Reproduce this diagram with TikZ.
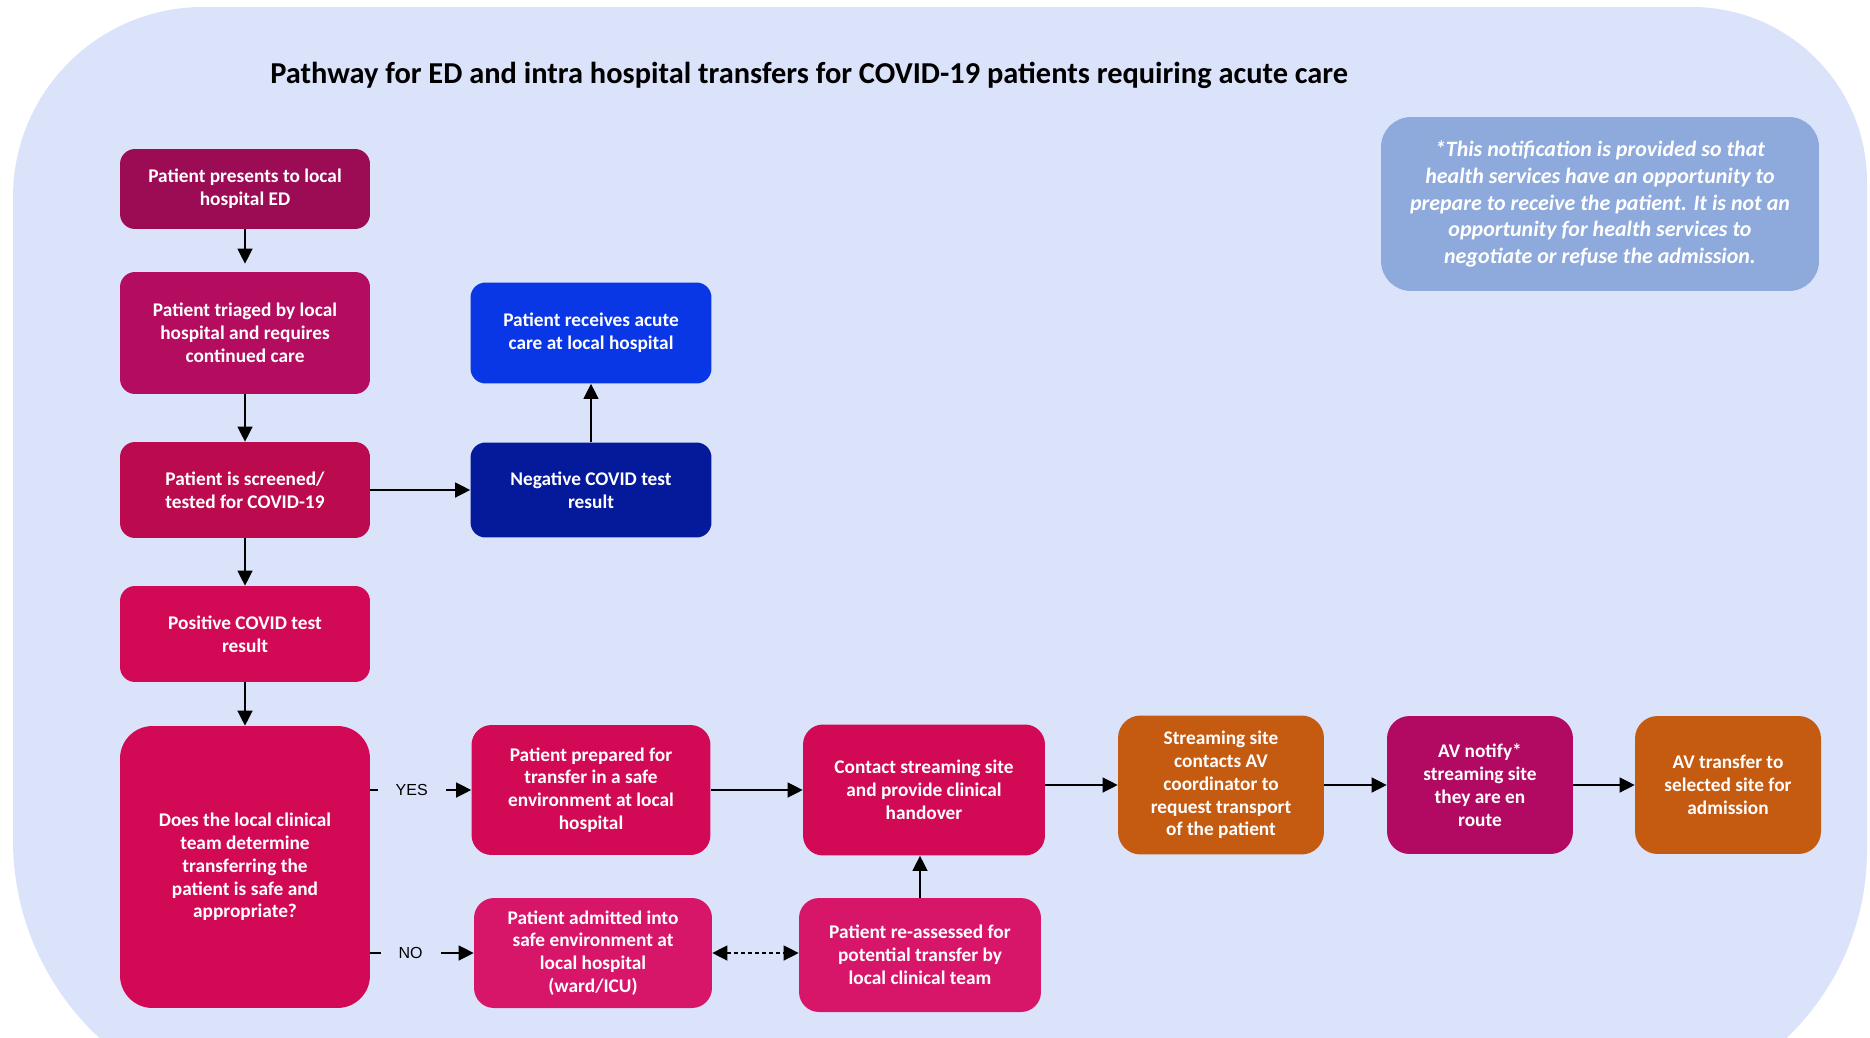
\documentclass[tikz,border=0pt]{standalone}
\usepackage{fontspec}
\setmainfont{Carlito}
\newfontfamily\arialfont{Liberation Sans}
\usetikzlibrary{arrows.meta,calc}

\definecolor{bgblue}{HTML}{DBE3FB}
\definecolor{rasp}{HTML}{9B0C55}
\definecolor{berry}{HTML}{B40C5F}
\definecolor{crimson}{HTML}{BB0A4E}
\definecolor{rose}{HTML}{D20A55}
\definecolor{pinkish}{HTML}{D7166A}
\definecolor{plum}{HTML}{B20A62}
\definecolor{brightblue}{HTML}{0A37E6}
\definecolor{navyblue}{HTML}{05199B}
\definecolor{amber}{HTML}{C55A11}
\definecolor{steel}{HTML}{8EA9DB}

\begin{document}
\begin{tikzpicture}[x=0.02cm, y=-0.02cm, line join=round,
    box/.style={rounded corners=0.3cm, text=white, align=center, inner sep=0pt,
      font=\bfseries\fontsize{11}{13}\selectfont},
    arr/.style={-{Triangle[length=0.3cm,width=0.3cm]}, line width=0.75pt},
    lbl/.style={fill=bgblue, inner xsep=0.36cm, inner ysep=2pt,
      font=\arialfont\fontsize{9.1}{11}\selectfont}]
\useasboundingbox (0,0) rectangle (1870,1038);
\clip (0,0) rectangle (1870,1038);
% rounded panel behind everything
\fill[bgblue] (13,197) arc[start angle=180,end angle=270,radius=190] -- (1692,7)
  arc[start angle=270,end angle=360,radius=175] -- (1867,850)
  arc[start angle=0,end angle=90,radius=260] -- (283,1110)
  arc[start angle=90,end angle=180,radius=270] -- cycle;

\node[anchor=base west, inner sep=0pt, font=\bfseries\fontsize{17.3}{20}\selectfont] (title) at (270,83)
  {Pathway for ED and intra hospital transfers for COVID-19 patients requiring acute care};

% left column
\node[box, fill=rasp, minimum width=5cm, minimum height=1.6cm] (pres) at (245,189)
  {Patient presents to local\\hospital ED};
\node[box, fill=berry, minimum width=5cm, minimum height=2.44cm] (triage) at (245,333)
  {Patient triaged by local\\hospital and requires\\continued care};
\node[box, fill=crimson, minimum width=5cm, minimum height=1.92cm] (screen) at (245,490)
  {Patient is screened/\\tested for COVID-19};
\node[box, fill=rose, minimum width=5cm, minimum height=1.92cm] (pos) at (245,634)
  {Positive COVID test\\result};
\node[box, fill=rose, rounded corners=0.65cm, minimum width=5cm, minimum height=5.64cm] (decide) at (245,867)
  {Does the local clinical\\team determine\\transferring the\\patient is safe and\\appropriate?};

% negative result
\node[box, fill=brightblue, minimum width=4.82cm, minimum height=2.02cm] (acute) at (591,333)
  {Patient receives acute\\care at local hospital};
\node[box, fill=navyblue, minimum width=4.82cm, minimum height=1.9cm] (neg) at (591,490)
  {Negative COVID test\\result};

% transfer row
\node[box, fill=rose, rounded corners=0.4cm, minimum width=4.78cm, minimum height=2.6cm] (prep) at (591,790)
  {Patient prepared for\\transfer in a safe\\environment at local\\hospital};
\node[box, fill=pinkish, rounded corners=0.4cm, minimum width=4.76cm, minimum height=2.2cm] (admit) at (593,953)
  {Patient admitted into\\safe environment at\\local hospital\\(ward/ICU)};
\node[box, fill=rose, rounded corners=0.4cm, minimum width=4.84cm, minimum height=2.62cm] (contact) at (924,790)
  {Contact streaming site\\and provide clinical\\handover};
\node[box, fill=pinkish, rounded corners=0.4cm, minimum width=4.84cm, minimum height=2.28cm] (reassess) at (920,955)
  {Patient re-assessed for\\potential transfer by\\local clinical team};
\node[box, fill=amber, rounded corners=0.45cm, minimum width=4.12cm, minimum height=2.78cm] (stream) at (1221,785)
  {Streaming site\\contacts AV\\coordinator to\\request transport\\of the patient};
\node[box, fill=plum, rounded corners=0.45cm, minimum width=3.72cm, minimum height=2.76cm] (notify) at (1480,785)
  {AV notify*\\streaming site\\they are en\\route};
\node[box, fill=amber, rounded corners=0.45cm, minimum width=3.72cm, minimum height=2.76cm] (avtrans) at (1728,785)
  {AV transfer to\\selected site for\\admission};

% footnote
\node[box, fill=steel, rounded corners=0.6cm, minimum width=8.76cm, minimum height=3.48cm,
  font=\bfseries\itshape\fontsize{12.5}{15.1}\selectfont] (note) at (1600,204)
  {*This notification is provided so that\\health services have an opportunity to\\prepare to receive the patient. It is not an\\opportunity for health services to\\negotiate or refuse the admission.};

% connectors
\draw[arr, shorten >=0.16cm] (pres) -- (triage);
\foreach \a/\b in {triage/screen, screen/pos, pos/decide, screen/neg, neg/acute,
  prep/contact, stream/notify, notify/avtrans}
  \draw[arr] (\a) -- (\b);
\draw[arr] (stream.west -| contact.east) -- (stream.west);
\draw[arr] (reassess.north) -- (reassess.north |- contact.south);
\draw[arr] (decide.east |- prep.west) -- node[lbl, pos=0.41] {YES} (prep.west);
\draw[arr] (decide.east |- admit.west) -- node[lbl, pos=0.39] {NO} (admit.west);
\draw[arr, {Triangle[length=0.3cm,width=0.3cm]}-{Triangle[length=0.3cm,width=0.3cm]},
  dash pattern=on 0.08cm off 0.06cm] (admit.east) -- (admit.east -| reassess.west);
\end{tikzpicture}
\end{document}
